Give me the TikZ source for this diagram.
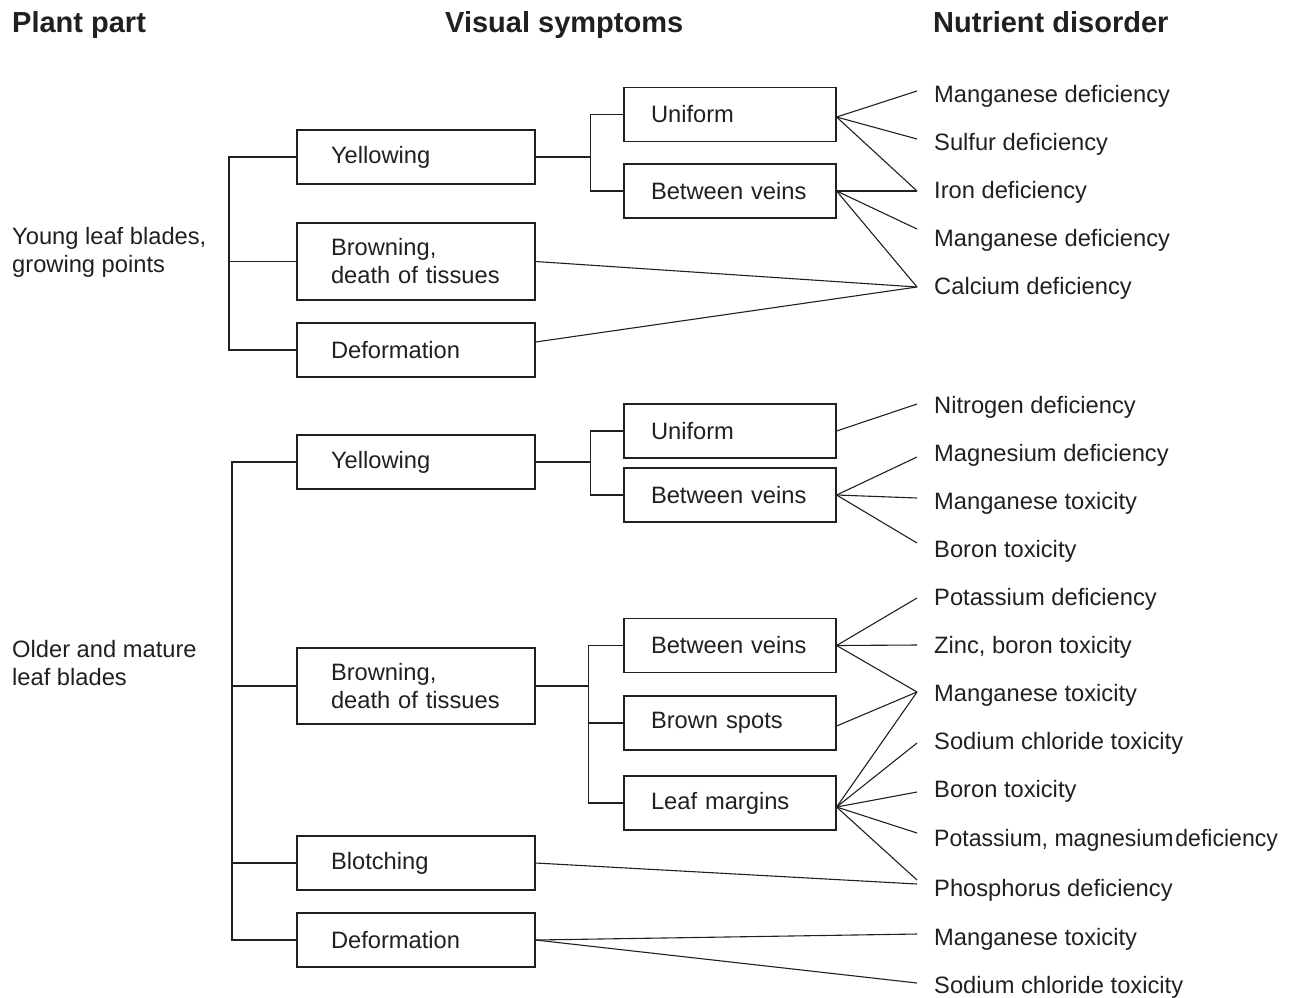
\documentclass[tikz,border=0pt]{standalone}
\usepackage{fontspec}
\setmainfont{Liberation Sans}
\usetikzlibrary{calc}
\definecolor{ink}{HTML}{231F20}
\tikzset{
  conn/.style={draw=ink, line width=1.1pt},
  boxa/.style={draw=ink, line width=1.2pt, rectangle, minimum width=238pt, minimum height=54pt,
    text width=170pt, inner xsep=34pt, inner ysep=0pt, align=left, text=ink,
    font=\fontsize{23.7}{28}\selectfont},
  boxb/.style={draw=ink, line width=1.2pt, rectangle, minimum width=212pt, minimum height=54pt,
    text width=158pt, inner xsep=27pt, inner ysep=0pt, align=left, text=ink,
    font=\fontsize{23.7}{28}\selectfont},
  lab/.style={anchor=base west, inner sep=0pt, text=ink, font=\fontsize{23.7}{28}\selectfont},
  side/.style={anchor=west, inner sep=0pt, align=left, text=ink, font=\fontsize{23.7}{28}\selectfont},
  head/.style={anchor=base west, inner sep=0pt, text=ink, font=\bfseries\fontsize{29}{34}\selectfont},
}
\begin{document}
\begin{tikzpicture}[x=1pt,y=-1pt]
\useasboundingbox (0,0) rectangle (1292,997);

% headings
\node[head] (h1) at (12,32) {Plant part};
\node[head] (h2) at (445,32) {Visual symptoms};
\node[head] (h3) at (933,32) {Nutrient disorder};

% plant parts
\node[side] (pp1) at (12,252) {Young leaf blades,\\growing points};
\node[side] (pp2) at (12,663) {Older and mature\\leaf blades};

% column 1 boxes
\node[boxa] (yy) at (416,157) {Yellowing};
\node[boxa, minimum height=77pt] (yb) at (416,261.5) {Browning,\\death of tissues};
\node[boxa] (yd) at (416,350) {Deformation};
\node[boxa] (oy) at (416,462) {Yellowing};
\node[boxa, minimum height=76pt] (ob) at (416,686) {Browning,\\death of tissues};
\node[boxa] (obl) at (416,863) {Blotching};
\node[boxa] (od) at (416,940) {Deformation};

% column 2 boxes
\node[boxb] (yu) at (730,114.5) {Uniform};
\node[boxb] (yv) at (730,191) {Between veins};
\node[boxb] (ou) at (730,431) {Uniform};
\node[boxb] (ov) at (730,495) {Between veins};
\node[boxb] (bv) at (730,645.5) {Between veins};
\node[boxb] (bs) at (730,723) {Brown spots};
\node[boxb] (lm) at (730,803) {Leaf margins};

% nutrient disorders
\node[lab] (l1) at (934,102) {Manganese deficiency};
\node[lab] (l2) at (934,150) {Sulfur deficiency};
\node[lab] (l3) at (934,198) {Iron deficiency};
\node[lab] (l4) at (934,246) {Manganese deficiency};
\node[lab] (l5) at (934,294) {Calcium deficiency};
\node[lab] (l6) at (934,413) {Nitrogen deficiency};
\node[lab] (l7) at (934,461) {Magnesium deficiency};
\node[lab] (l8) at (934,509) {Manganese toxicity};
\node[lab] (l9) at (934,557) {Boron toxicity};
\node[lab] (l10) at (934,605) {Potassium deficiency};
\node[lab] (l11) at (934,653) {Zinc, boron toxicity};
\node[lab] (l12) at (934,701) {Manganese toxicity};
\node[lab] (l13) at (934,749) {Sodium chloride toxicity};
\node[lab] (l14) at (934,797) {Boron toxicity};
\node[lab] (l15) at (934,846) {\scalebox{0.972}[1]{Potassium, magnesium\hspace{0.08em}deficiency}};
\node[lab] (l16) at (934,896) {Phosphorus deficiency};
\node[lab] (l17) at (934,945) {Manganese toxicity};
\node[lab] (l18) at (934,993) {Sodium chloride toxicity};

% endpoints of the fan lines
\coordinate (e1) at (917,91);
\coordinate (e2) at (917,139);
\coordinate (e3) at (917,191);
\coordinate (e4) at (917,229);
\coordinate (e5) at (917,287);
\coordinate (e6) at (917,404);
\coordinate (e7) at (917,457);
\coordinate (e8) at (917,498);
\coordinate (e9) at (917,543);
\coordinate (e10) at (917,598);
\coordinate (e11) at (917,645);
\coordinate (e12) at (917,692);
\coordinate (e13) at (917,743);
\coordinate (e14) at (917,792);
\coordinate (e15) at (917,833);
\coordinate (e16) at (917,880);
\coordinate (e16b) at (917,884);
\coordinate (e17) at (917,934);
\coordinate (e18) at (917,983);

% young bracket
\coordinate (ja) at (229,157);
\draw[conn] (yy.west) -- (ja) -- (ja |- yd.west) -- (yd.west);
\draw[conn] (yb.west) -- (yb.west -| ja);

% older bracket
\coordinate (jb) at (232,462);
\draw[conn] (oy.west) -- (jb) -- (jb |- od.west) -- (od.west);
\draw[conn] (ob.west) -- (ob.west -| jb);
\draw[conn] (obl.west) -- (obl.west -| jb);

% yellowing (young) to column 2
\draw[conn] (yy.east) -- ++(55,0) coordinate (jc);
\draw[conn] (yu.west) -- (yu.west -| jc) -- (yv.west -| jc) -- (yv.west);

% yellowing (older) to column 2
\draw[conn] (oy.east) -- ++(55,0) coordinate (jd);
\draw[conn] (ou.west) -- (ou.west -| jd) -- (ov.west -| jd) -- (ov.west);

% browning (older) to column 2
\draw[conn] (ob.east) -- ++(53,0) coordinate (je);
\draw[conn] (bv.west) -- (bv.west -| je) -- (lm.west -| je) -- (lm.west);
\draw[conn] (bs.west) -- (bs.west -| je);

% fans, young
\draw[conn] (e1) -- ([yshift=-2.5pt]yu.east) -- (e2);
\draw[conn] ([yshift=-2.5pt]yu.east) -- (e3);
\draw[conn] (yv.east) -- (e3);
\draw[conn] (yv.east) -- (e4);
\draw[conn] (yv.east) -- (e5);
\draw[conn] (yb.east) -- (e5);
\draw[conn] ([yshift=8pt]yd.east) -- (e5);

% fans, older
\draw[conn] (ou.east) -- (e6);
\draw[conn] (ov.east) -- (e7);
\draw[conn] (ov.east) -- (e8);
\draw[conn] (ov.east) -- (e9);
\draw[conn] (bv.east) -- (e10);
\draw[conn] (bv.east) -- (e11);
\draw[conn] (bv.east) -- (e12);
\draw[conn] ([yshift=-3pt]bs.east) -- (e12);
\draw[conn] ([yshift=-4pt]lm.east) -- (e12);
\draw[conn] ([yshift=-4pt]lm.east) -- (e13);
\draw[conn] ([yshift=-4pt]lm.east) -- (e14);
\draw[conn] ([yshift=-4pt]lm.east) -- (e15);
\draw[conn] ([yshift=-4pt]lm.east) -- (e16);
\draw[conn] (obl.east) -- (e16b);
\draw[conn] (od.east) -- (e17);
\draw[conn] (od.east) -- (e18);
\end{tikzpicture}
\end{document}
